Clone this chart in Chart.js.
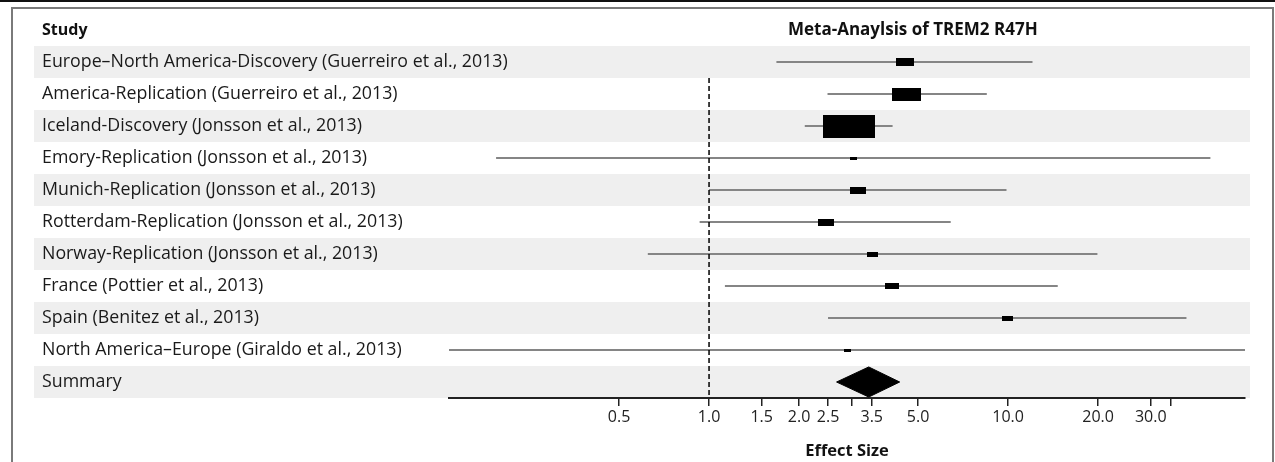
<!DOCTYPE html>
<html lang="en">
<head>
    <meta charset="UTF-8">
    <title>Meta-Anaylsis of TREM2 R47H</title>
    <script src="https://cdn.jsdelivr.net/npm/chart.js"></script>
    <style>
        body {
            margin: 0;
            background: #fff;
            font-family: "Open Sans", sans-serif;
        }
        #wrap {
            position: relative;
            width: 1275px;
            height: 462px;
            overflow: hidden;
        }
        .rule-top {
            position: absolute;
            left: 0; top: 0;
            width: 1275px; height: 2px;
            background: #111;
        }
        .frame {
            position: absolute;
            left: 11px; top: 7px;
            width: 1259px; height: 500px;
            border: 2px solid #7a7a7a;
        }
        canvas {
            position: absolute;
            left: 0; top: 0;
        }
    </style>
</head>
<body>
<div id="wrap">
    <div class="rule-top"></div>
    <div class="frame"></div>
    <canvas id="forest" width="1275" height="462"></canvas>
</div>

<script>
    // study rows, top to bottom (last one is the pooled summary)
    const studies = [
        'Europe\u2013North America-Discovery (Guerreiro et al., 2013)',
        'America-Replication (Guerreiro et al., 2013)',
        'Iceland-Discovery (Jonsson et al., 2013)',
        'Emory-Replication (Jonsson et al., 2013)',
        'Munich-Replication (Jonsson et al., 2013)',
        'Rotterdam-Replication (Jonsson et al., 2013)',
        'Norway-Replication (Jonsson et al., 2013)',
        'France (Pottier et al., 2013)',
        'Spain (Benitez et al., 2013)',
        'North America\u2013Europe (Giraldo et al., 2013)',
        'Summary'
    ];

    // effect sizes (odds ratios), for the 10 studies
    const estimate = [4.51, 4.59, 2.93, 3.04, 3.16, 2.46, 3.53, 4.08, 9.92, 2.91];
    const lower    = [1.68, 2.49, 2.09, 0.194, 1.00, 0.93, 0.624, 1.13, 2.50, 0.10];
    const upper    = [12.07, 8.49, 4.11, 47.5, 9.88, 6.43, 19.9, 14.66, 39.5, 80.0];
    const weight   = [6.6, 17.4, 55.1, 0.8, 4.8, 5.8, 2.3, 3.2, 3.0, 0.8];   // % weight

    // pooled summary
    const summary = { est: 3.42, lo: 2.67, hi: 4.34 };
    const nullEffect = 1;

    const tickVals   = [0.5, 1, 1.5, 2, 2.5, 3, 3.5, 5, 10, 20, 30, 35];
    const tickLabels = ['0.5', '1.0', '1.5', '2.0', '2.5', '', '3.5', '5.0', '10.0', '20.0', '30.0', ''];

    const xMin = 0.135, xMax = 62;
    const summaryRow = studies.length - 1;
    const labelColWidth = 407;

    // black boxes, size scaled with study weight
    function boxFor(w) {
        const h = Math.max(3, Math.round(Math.sqrt(w) * 3.1));
        const c = document.createElement('canvas');
        c.width = Math.round(h * 2.25);
        c.height = h;
        const g = c.getContext('2d');
        g.fillStyle = '#000';
        g.fillRect(0, 0, c.width, c.height);
        return c;
    }

    const boxPoints = estimate.map((v, i) => ({ x: v, y: i }));
    const boxStyles = weight.map(boxFor);

    // CI whiskers as one broken line
    let whiskers = [];
    estimate.forEach((v, i) => {
        whiskers.push({ x: lower[i], y: i }, { x: upper[i], y: i }, { x: null, y: null });
    });

    const diamond = [
        { x: summary.lo,  y: summaryRow },
        { x: summary.est, y: summaryRow - 0.47 },
        { x: summary.hi,  y: summaryRow },
        { x: summary.est, y: summaryRow + 0.47 },
        { x: summary.lo,  y: summaryRow }
    ];

    const refLine = [
        { x: nullEffect, y: 0.5 },
        { x: nullEffect, y: summaryRow + 0.5 }
    ];

    // grey bands on every other row + header texts
    const rowBands = {
        id: 'rowBands',
        beforeDraw(chart) {
            const g = chart.ctx, y = chart.scales.y;
            g.save();
            g.fillStyle = '#efefef';
            studies.forEach((s, i) => {
                if (i % 2 !== 0) return;
                const y0 = y.getPixelForValue(i - 0.5);
                const y1 = y.getPixelForValue(i + 0.5);
                g.fillRect(34, y0, 1250 - 34, y1 - y0);
            });
            g.restore();
        },
        afterDraw(chart) {
            const g = chart.ctx;
            g.save();
            g.fillStyle = '#111';
            g.textBaseline = 'middle';
            g.textAlign = 'left';
            g.font = 'bold 16px "Open Sans", sans-serif';
            g.fillText('Study', 42, 30);
            g.font = 'bold 17px "Open Sans", sans-serif';
            g.fillText('Meta-Anaylsis of TREM2 R47H', 788, 30);
            g.restore();
        }
    };

    const ctx = document.getElementById('forest').getContext('2d');

    new Chart(ctx, {
        type: 'line',
        data: {
            datasets: [
                {
                    label: 'Estimate',
                    data: boxPoints,
                    showLine: false,
                    pointStyle: boxStyles,
                    pointRadius: 5,
                    order: 0
                },
                {
                    label: 'Summary',
                    data: diamond,
                    borderColor: '#000',
                    borderWidth: 1,
                    backgroundColor: '#000',
                    fill: 'shape',
                    pointRadius: 0,
                    tension: 0,
                    order: 0
                },
                {
                    label: 'Null',
                    data: refLine,
                    borderColor: '#000',
                    borderWidth: 1.5,
                    borderDash: [5, 3],
                    pointRadius: 0,
                    order: 1
                },
                {
                    label: 'CI',
                    data: whiskers,
                    borderColor: '#858585',
                    borderWidth: 2,
                    pointRadius: 0,
                    spanGaps: false,
                    order: 2
                }
            ]
        },
        options: {
            responsive: false,
            animation: false,
            layout: {
                padding: { left: 42, right: 30, top: 46, bottom: 0 }
            },
            plugins: {
                legend: { display: false },
                tooltip: { enabled: false }
            },
            scales: {
                x: {
                    type: 'logarithmic',
                    min: xMin,
                    max: xMax,
                    afterBuildTicks: (scale) => {
                        scale.ticks = tickVals.map(v => ({ value: v }));
                    },
                    afterFit: (scale) => { scale.height = 64; },
                    ticks: {
                        autoSkip: false,
                        maxRotation: 0,
                        color: '#222',
                        font: { size: 16, family: '"Open Sans", sans-serif' },
                        padding: 2,
                        callback: (value, index) => tickLabels[index]
                    },
                    grid: {
                        drawOnChartArea: false,
                        drawTicks: true,
                        tickLength: 8,
                        color: '#222',
                        lineWidth: 1.5
                    },
                    border: { display: true, color: '#222', width: 2 },
                    title: {
                        display: true,
                        text: 'Effect Size',
                        color: '#111',
                        font: { size: 16.5, weight: 'bold', family: '"Open Sans", sans-serif' },
                        padding: { top: 4, bottom: 1 }
                    }
                },
                y: {
                    type: 'linear',
                    reverse: true,
                    min: -0.5,
                    max: summaryRow + 0.5,
                    afterBuildTicks: (scale) => {
                        scale.ticks = studies.map((s, i) => ({ value: i }));
                    },
                    afterFit: (scale) => { scale.width = labelColWidth; },
                    ticks: {
                        autoSkip: false,
                        // mirrored so long labels are not clipped to the axis box
                        mirror: true,
                        crossAlign: 'near',
                        padding: -labelColWidth,
                        color: '#1a1a1a',
                        font: { size: 17.8, family: '"Open Sans", sans-serif' },
                        callback: (value, index) => studies[index]
                    },
                    grid: { display: false },
                    border: { display: false }
                }
            }
        },
        plugins: [rowBands]
    });
</script>
</body>
</html>
